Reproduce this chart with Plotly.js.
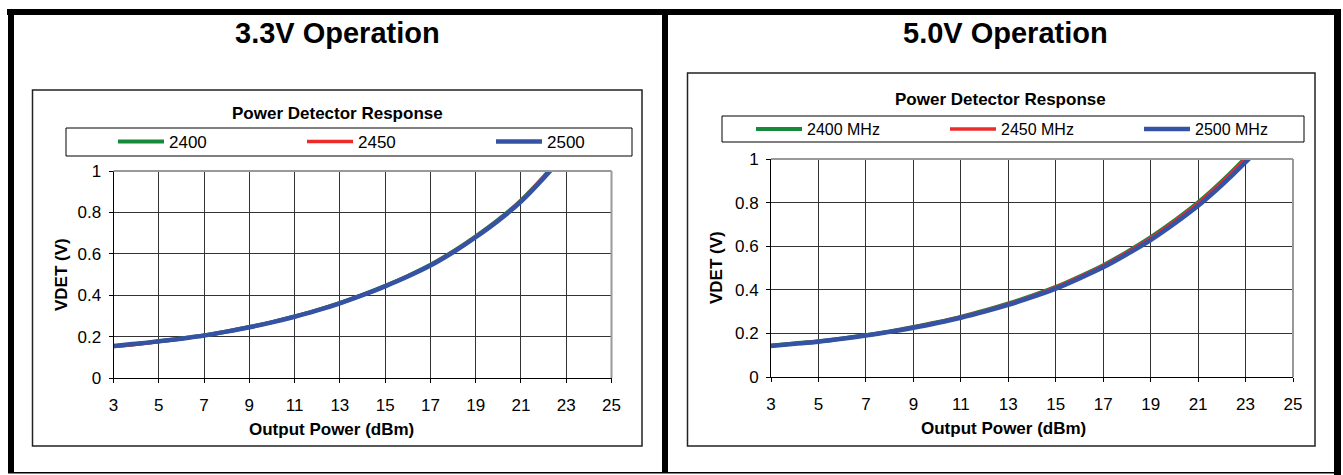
<!DOCTYPE html>
<html>
<head>
<meta charset="utf-8">
<script src="https://cdn.plot.ly/plotly-3.0.1.min.js"></script>
<style>
html,body{margin:0;padding:0;background:#fff;}
#chart{width:1343px;height:475px;}
</style>
</head>
<body>
<div id="chart"></div>
<script>
// ---------- data ----------
const panelTitles = ["3.3V Operation", "5.0V Operation"];
const chartTitle = "Power Detector Response";
const xTitle = "Output Power (dBm)";
const yTitle = "VDET (V)";
const seriesNames33 = ["2400", "2450", "2500"];
const seriesNames50 = ["2400 MHz", "2450 MHz", "2500 MHz"];

const xPow33 = [3,4,5,6,7,8,9,10,11,12,13,14,15,16,17,18,19,20,21,22,23];
const v33_2400 = [0.153,0.164,0.177,0.191,0.206,0.225,0.246,0.270,0.297,0.328,0.363,0.402,0.445,0.493,0.547,0.611,0.684,0.765,0.858,0.972,1.098];
const v33_2450 = [0.152,0.163,0.176,0.190,0.206,0.225,0.246,0.270,0.297,0.328,0.362,0.401,0.444,0.492,0.546,0.610,0.683,0.763,0.856,0.970,1.095];
const v33_2500 = [0.155,0.165,0.177,0.190,0.205,0.224,0.245,0.269,0.296,0.327,0.361,0.400,0.443,0.490,0.543,0.607,0.680,0.760,0.852,0.965,1.090];

const xPow50 = [3,4,5,6,7,8,9,10,11,12,13,14,15,16,17,18,19,20,21,22,23,24];
const v50_2400 = [0.144,0.154,0.164,0.177,0.192,0.209,0.229,0.251,0.276,0.305,0.337,0.373,0.413,0.461,0.513,0.574,0.641,0.717,0.801,0.898,1.006,1.122];
const v50_2450 = [0.143,0.153,0.163,0.176,0.191,0.208,0.228,0.250,0.275,0.303,0.335,0.371,0.411,0.458,0.510,0.571,0.637,0.713,0.796,0.893,1.000,1.115];
const v50_2500 = [0.142,0.152,0.162,0.175,0.190,0.207,0.226,0.248,0.272,0.300,0.331,0.366,0.405,0.452,0.503,0.563,0.628,0.703,0.785,0.880,0.985,1.100];

const xTickVals = [3,5,7,9,11,13,15,17,19,21,23,25];
const yTickVals = [0,0.2,0.4,0.6,0.8,1];

// ---------- helpers ----------
const W = 1343, H = 475;
const px = x => x / W;
const py = y => 1 - y / H;
const FONT = 'Arial, "Liberation Sans", sans-serif';
const colors = ['#17893b', '#ec2b2b', '#3453a5'];
const widths = [4, 3.5, 4.5];

function traces(xs, ys, names, xa, ya, lg) {
  return ys.map((y, i) => ({
    type: 'scatter', mode: 'lines', x: xs, y: y, name: names[i],
    xaxis: xa, yaxis: ya, legend: lg,
    line: {color: colors[i], width: widths[i], shape: 'spline', smoothing: 0.8},
    hoverinfo: 'skip'
  }));
}

const data = [
  ...traces(xPow33, [v33_2400, v33_2450, v33_2500], seriesNames33, 'x', 'y', 'legend'),
  ...traces(xPow50, [v50_2400, v50_2450, v50_2500], seriesNames50, 'x2', 'y2', 'legend2')
];

function xAxis(domain, anchor) {
  return {
    domain: domain, anchor: anchor, range: [3, 25], tickmode: 'array', tickvals: xTickVals,
    showgrid: true, gridcolor: '#333', gridwidth: 1, zeroline: false,
    showline: true, linecolor: '#000', linewidth: 1,
    ticks: 'outside', ticklen: 4, tickcolor: '#000', ticklabelstandoff: 8,
    tickfont: {family: FONT, size: 17, color: '#000'}, fixedrange: true
  };
}
function yAxis(domain, anchor) {
  return {
    domain: domain, anchor: anchor, range: [0, 1], tickmode: 'array', tickvals: yTickVals,
    showgrid: true, gridcolor: '#333', gridwidth: 1, zeroline: false,
    showline: true, linecolor: '#000', linewidth: 1,
    ticks: 'outside', ticklen: 4, tickcolor: '#000', ticklabelstandoff: 4,
    tickfont: {family: FONT, size: 17, color: '#000'}, fixedrange: true
  };
}

function rect(x0, y0, x1, y1, opts) {
  return Object.assign({type: 'rect', xref: 'paper', yref: 'paper',
    x0: px(x0), x1: px(x1), y0: py(y0), y1: py(y1), layer: 'below'}, opts);
}
const blackFill = {fillcolor: '#000', line: {width: 0}, layer: 'above'};
const shapes = [
  rect(7, 9, 1341, 15, blackFill),
  rect(8, 9, 14, 473, blackFill),
  rect(662, 9, 668, 473, blackFill),
  rect(1334, 9, 1341, 475, blackFill),
  rect(8, 472, 1334, 473.5, blackFill),
  // chart boxes
  rect(32.5, 90, 642, 446, {line: {color: '#222', width: 1.5}, fillcolor: 'rgba(0,0,0,0)'}),
  rect(687.5, 73, 1315, 446, {line: {color: '#222', width: 1.5}, fillcolor: 'rgba(0,0,0,0)'}),
  // legend boxes
  rect(66, 128, 632, 156, {line: {color: '#000', width: 1}, fillcolor: 'rgba(0,0,0,0)'}),
  rect(722, 116, 1304, 142, {line: {color: '#000', width: 1}, fillcolor: 'rgba(0,0,0,0)'}),
  // plot area top/right edges (gray)
  {type: 'line', xref: 'x domain', yref: 'y domain', x0: 0, x1: 1, y0: 1, y1: 1, line: {color: '#999', width: 2}},
  {type: 'line', xref: 'x domain', yref: 'y domain', x0: 1, x1: 1, y0: 0, y1: 1, line: {color: '#999', width: 2}},
  {type: 'line', xref: 'x2 domain', yref: 'y2 domain', x0: 0, x1: 1, y0: 1, y1: 1, line: {color: '#999', width: 2}},
  {type: 'line', xref: 'x2 domain', yref: 'y2 domain', x0: 1, x1: 1, y0: 0, y1: 1, line: {color: '#999', width: 2}}
];

function ann(text, x, y, size, opts) {
  return Object.assign({text: text, xref: 'paper', yref: 'paper', x: px(x), y: py(y),
    xanchor: 'center', yanchor: 'middle', showarrow: false,
    font: {family: FONT, size: size, color: '#000'}}, opts);
}
const annotations = [
  ann('<b>' + panelTitles[0] + '</b>', 337, 33, 29),
  ann('<b>' + panelTitles[1] + '</b>', 1005, 33, 29),
  ann('<b>' + chartTitle + '</b>', 337, 113, 17),
  ann('<b>' + chartTitle + '</b>', 1001, 99, 17),
  ann('<b>' + xTitle + '</b>', 331, 429, 17),
  ann('<b>' + xTitle + '</b>', 1003, 428, 17),
  ann('<b>' + yTitle + '</b>', 61, 275, 17, {textangle: -90}),
  ann('<b>' + yTitle + '</b>', 716, 268, 17, {textangle: -90})
];

function legendCfg(x, y, size, ew) {
  return {x: px(x), y: py(y), xanchor: 'left', yanchor: 'middle', orientation: 'h',
    entrywidth: ew, entrywidthmode: 'pixels', itemwidth: 46,
    font: {family: FONT, size: size, color: '#000'},
    bgcolor: 'rgba(0,0,0,0)', borderwidth: 0, traceorder: 'normal'};
}

const layout = {
  width: W, height: H, margin: {l: 0, r: 0, t: 0, b: 0, autoexpand: false},
  paper_bgcolor: '#fff', plot_bgcolor: '#fff',
  font: {family: FONT, color: '#000'},
  showlegend: true,
  xaxis: xAxis([px(113.5), px(611.5)], 'y'),
  yaxis: yAxis([py(378), py(171)], 'x'),
  xaxis2: xAxis([px(771), px(1293)], 'y2'),
  yaxis2: yAxis([py(377), py(159)], 'x2'),
  legend: legendCfg(113, 142, 17, 128),
  legend2: legendCfg(751, 129, 16, 133),
  shapes: shapes,
  annotations: annotations
};

Plotly.newPlot('chart', data, layout, {displayModeBar: false, staticPlot: true});
</script>
</body>
</html>
